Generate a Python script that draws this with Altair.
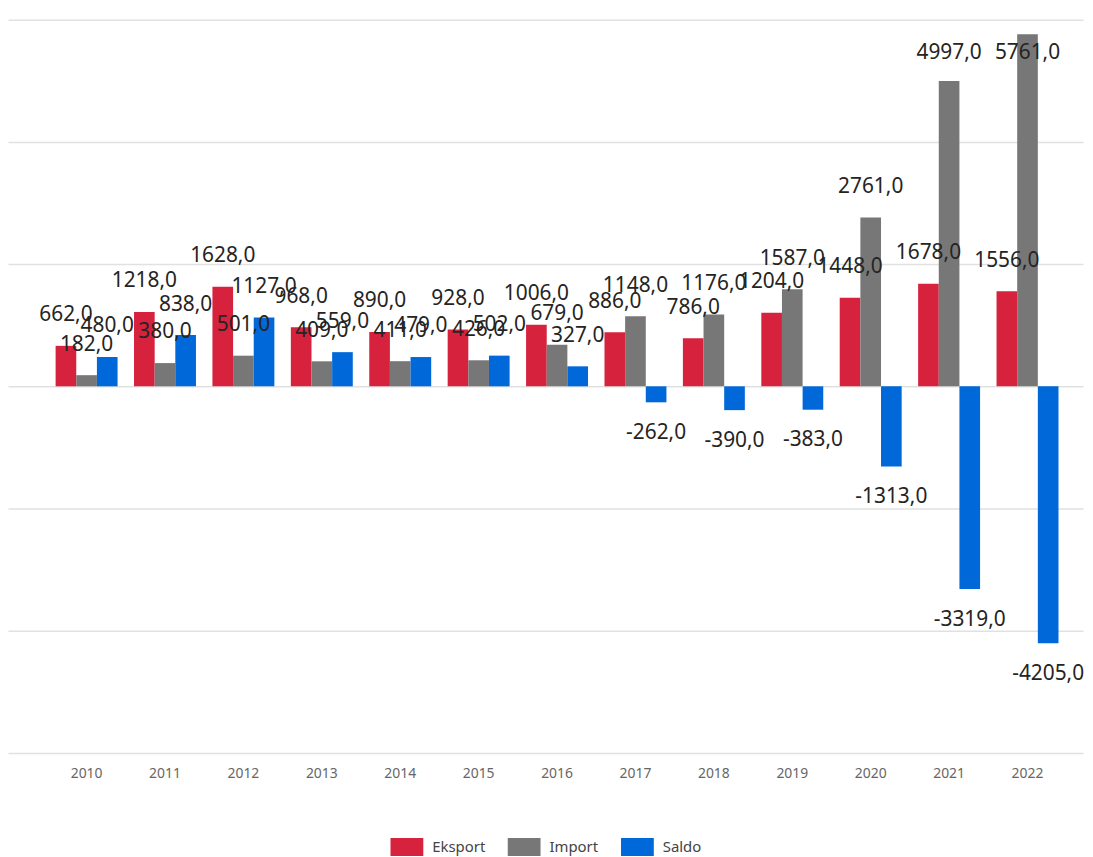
import altair as alt
import pandas as pd

years = [str(y) for y in range(2010, 2023)]
eksport = [662, 1218, 1628, 968, 890, 928, 1006, 886, 786, 1204, 1448, 1678, 1556]
importv = [182, 380, 501, 409, 411, 426, 679, 1148, 1176, 1587, 2761, 4997, 5761]
saldo = [480, 838, 1127, 559, 479, 502, 327, -262, -390, -383, -1313, -3319, -4205]
series = ["Eksport", "Import", "Saldo"]
colors = ["#D7223E", "#777777", "#0068D8"]
y_ticks = [-6000, -4000, -2000, 0, 2000, 4000, 6000]

rows = []
for i, yr in enumerate(years):
    for s, vals in zip(series, [eksport, importv, saldo]):
        v = vals[i]
        rows.append({"year": yr, "series": s, "value": v,
                     "label": f"{v:.1f}".replace(".", ",")})
df = pd.DataFrame(rows)

FONT = "Noto Sans"

xscale = alt.Scale(paddingInner=0.21, paddingOuter=0.46, align=0.66)
xenc = alt.X("year:N", sort=years, scale=xscale,
             axis=alt.Axis(title=None, labelAngle=0, ticks=False, domain=False,
                           labelFontSize=14, labelColor="#666666", labelFont=FONT,
                           labelPadding=14, grid=False))
xoff = alt.XOffset("series:N", sort=series, scale=alt.Scale(paddingInner=0))
yscale = alt.Scale(domain=[-6000, 6000], nice=False)

bars = alt.Chart(df).mark_bar().encode(
    x=xenc,
    xOffset=xoff,
    y=alt.Y("value:Q", scale=yscale,
            axis=alt.Axis(title=None, labels=False, ticks=False, domain=False,
                          values=y_ticks, gridColor="#E1E1E1", gridWidth=1.5)),
    color=alt.Color("series:N", sort=series,
                    scale=alt.Scale(domain=series, range=colors),
                    legend=alt.Legend(title=None, orient="none", direction="horizontal",
                                      legendX=385, legendY=816, padding=0,
                                      symbolType="M-1,-0.55H1V0.55H-1Z", symbolSize=1089,
                                      symbolStrokeWidth=0, symbolOpacity=1,
                                      labelFontSize=15, labelColor="#444444", labelFont=FONT,
                                      labelOffset=9, columnPadding=22)),
)

labels = alt.Chart(df).transform_calculate(
    ly="datum.value >= 0 ? min(datum.value + 500, 5450) : datum.value - 500"
).mark_text(fontSize=21, font=FONT, color="#252423", baseline="middle").encode(
    x=alt.X("year:N", sort=years, scale=xscale),
    xOffset=xoff,
    y=alt.Y("ly:Q", scale=yscale),
    text="label:N",
)

chart = alt.layer(bars, labels).properties(
    width=1082, height=738,
    padding={"left": 0, "top": 9, "right": 0, "bottom": 0},
).configure_view(stroke=None)

chart.save("out.html", embed_options={"renderer": "svg", "actions": False})
